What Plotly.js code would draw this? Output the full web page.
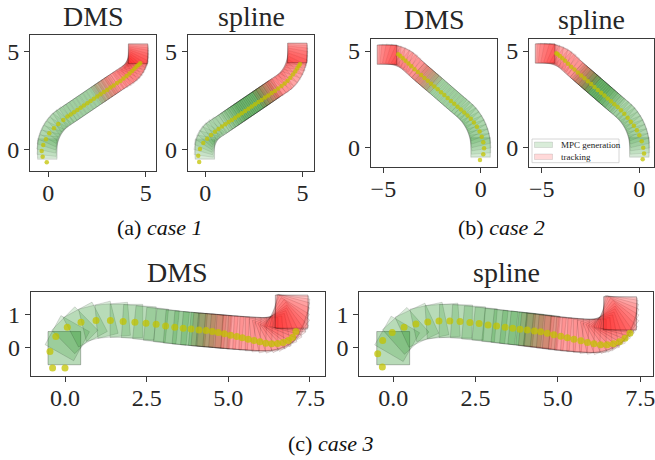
<!DOCTYPE html>
<html><head><meta charset="utf-8">
<script src="https://cdn.plot.ly/plotly-3.0.1.min.js"></script>
<style>html,body{margin:0;padding:0;background:#fff}#chart{width:655px;height:460px}</style>
</head><body><div id="chart"></div>
<script>
// ---------- DATA (poses are [x, y, heading deg]; dots are [x, y]) ----------
const c1DmsGreen = [[-0.05,0,90],[-0.05,0.06,90],[-0.04,0.21,84],[-0.01,0.42,78],[0.05,0.62,72],[0.12,0.81,66],[0.22,1.0,60],[0.33,1.18,54],[0.46,1.34,48],[0.61,1.49,42],[0.77,1.62,36],[0.92,1.72,34],[1.09,1.84,34],[1.26,1.95,34],[1.43,2.07,34],[1.61,2.19,34],[1.78,2.3,34],[1.95,2.42,34],[2.12,2.53,34],[2.3,2.65,34],[2.47,2.77,34],[2.64,2.88,34],[2.81,3.0,34],[2.98,3.11,34]];
const c1DmsRed = [[2.88,3.04,34],[3.05,3.15,34],[3.22,3.27,34],[3.39,3.38,34],[3.56,3.5,34],[3.73,3.61,34],[3.88,3.71,34],[3.99,3.78,36],[4.11,3.86,40],[4.22,3.96,46],[4.31,4.07,52],[4.4,4.18,58],[4.47,4.3,64],[4.53,4.43,70],[4.56,4.54,75],[4.59,4.66,80],[4.6,4.75,84],[4.61,4.83,87],[4.61,4.87,89],[4.61,4.9,90],[4.61,4.9,90],[4.61,4.9,90]];
const c1DmsDots = [[-0.08,-0.64],[-0.29,-0.36],[-0.34,-0.07],[-0.26,0.24],[-0.12,0.53],[0.05,0.84],[0.29,1.09],[0.51,1.31],[0.77,1.52],[0.98,1.69],[1.15,1.8],[1.32,1.91],[1.49,2.03],[1.66,2.14],[1.83,2.26],[2.0,2.37],[2.17,2.48],[2.34,2.6],[2.51,2.71],[2.68,2.83],[2.85,2.94],[3.02,3.05],[3.19,3.17],[3.36,3.28],[3.53,3.4],[3.7,3.51],[3.86,3.63],[4.02,3.76],[4.17,3.89],[4.3,4.01],[4.42,4.13],[4.53,4.24],[4.63,4.33],[4.72,4.41]];

const c1SplGreen = [[-0.02,0,90],[-0.02,0.05,90],[-0.01,0.18,82],[0.03,0.36,74],[0.09,0.53,66],[0.18,0.69,58],[0.28,0.84,50],[0.41,0.97,42],[0.55,1.08,34],[0.72,1.19,34],[0.88,1.3,34],[1.05,1.41,34],[1.22,1.53,34],[1.38,1.64,34],[1.46,1.7,34],[1.55,1.75,34],[1.63,1.81,34],[1.71,1.86,34],[1.8,1.92,34],[1.88,1.98,34],[1.96,2.03,34],[2.05,2.09,34],[2.13,2.15,34],[2.21,2.2,34],[2.29,2.26,34],[2.38,2.31,34],[2.46,2.37,34],[2.54,2.42,34],[2.63,2.48,34],[2.71,2.54,34],[2.79,2.59,34],[2.88,2.65,34],[2.96,2.71,34],[3.04,2.76,34],[3.12,2.82,34],[3.21,2.87,34],[3.29,2.93,34]];
const c1SplRed = [[3.12,2.82,34],[3.29,2.93,34],[3.45,3.04,34],[3.62,3.16,34],[3.78,3.27,34],[3.87,3.33,34],[4.04,3.45,40],[4.19,3.59,46],[4.32,3.75,52],[4.44,3.91,58],[4.53,4.09,64],[4.61,4.28,70],[4.66,4.44,75],[4.7,4.6,80],[4.72,4.74,84],[4.73,4.84,87],[4.73,4.91,89],[4.73,4.94,90],[4.73,4.94,90],[4.73,4.94,90]];
const c1SplDots = [[-0.31,-0.63],[-0.36,-0.31],[-0.27,0.04],[-0.1,0.34],[0.1,0.56],[0.3,0.75],[0.5,0.92],[0.68,1.06],[0.86,1.18],[1.03,1.3],[1.2,1.41],[1.37,1.52],[1.54,1.63],[1.71,1.75],[1.88,1.86],[2.05,1.97],[2.22,2.09],[2.39,2.2],[2.56,2.32],[2.73,2.43],[2.9,2.54],[3.07,2.66],[3.24,2.77],[3.41,2.89],[3.58,3.0],[3.75,3.12],[3.92,3.25],[4.08,3.38],[4.23,3.52],[4.37,3.67],[4.5,3.83],[4.62,3.99],[4.72,4.14],[4.8,4.27],[4.87,4.37]];

const c2DmsGreen = [[-0.01,-0.01,90],[-0.01,0.04,90],[-0.02,0.2,94.5],[-0.04,0.41,99],[-0.08,0.61,103.5],[-0.14,0.82,108],[-0.21,1.01,112.5],[-0.3,1.2,117],[-0.4,1.39,121.5],[-0.52,1.56,126],[-0.65,1.72,130.5],[-0.79,1.88,135],[-0.93,2.01,139],[-1.09,2.15,139],[-1.25,2.29,139],[-1.41,2.43,139],[-1.56,2.56,139],[-1.72,2.7,139],[-1.88,2.84,139],[-2.04,2.98,139],[-2.2,3.12,139],[-2.36,3.26,139],[-2.52,3.4,139],[-2.68,3.53,139],[-2.84,3.67,139]];
const c2DmsRed = [[-2.68,3.53,139],[-2.84,3.67,139],[-3.0,3.81,139],[-3.16,3.95,139],[-3.32,4.09,139],[-3.47,4.22,139],[-3.59,4.35,139],[-3.75,4.47,145],[-3.91,4.58,151],[-4.09,4.66,157],[-4.27,4.73,163],[-4.46,4.78,169],[-4.63,4.8,174],[-4.72,4.81,177],[-4.79,4.81,179],[-4.82,4.81,180],[-4.82,4.81,180],[-4.82,4.81,180]];
const c2DmsDots = [[-0.04,-0.64],[0.13,-0.34],[0.17,-0.03],[0.13,0.28],[0.05,0.57],[-0.06,0.84],[-0.2,1.08],[-0.35,1.3],[-0.51,1.5],[-0.68,1.67],[-0.85,1.82],[-1.02,1.97],[-1.19,2.12],[-1.36,2.27],[-1.53,2.42],[-1.7,2.57],[-1.87,2.72],[-2.04,2.87],[-2.21,3.02],[-2.38,3.16],[-2.55,3.31],[-2.72,3.46],[-2.89,3.61],[-3.06,3.76],[-3.23,3.91],[-3.4,4.06],[-3.56,4.21],[-3.71,4.36],[-3.86,4.5],[-4.0,4.63],[-4.13,4.74],[-4.24,4.83]];

const c2SplGreen = [[0,0,90],[0,0.05,90],[-0.01,0.2,94.5],[-0.03,0.41,99],[-0.07,0.61,103.5],[-0.13,0.82,108],[-0.2,1.01,112.5],[-0.29,1.2,117],[-0.39,1.39,121.5],[-0.51,1.56,126],[-0.64,1.72,130.5],[-0.78,1.88,135],[-0.92,2.01,139],[-1.08,2.15,139],[-1.24,2.29,139],[-1.4,2.43,139],[-1.48,2.5,139],[-1.56,2.57,139],[-1.64,2.64,139],[-1.72,2.71,139],[-1.8,2.78,139],[-1.88,2.85,139],[-1.96,2.92,139],[-2.04,2.99,139],[-2.12,3.06,139],[-2.2,3.13,139],[-2.28,3.2,139],[-2.36,3.27,139],[-2.44,3.34,139],[-2.52,3.41,139],[-2.6,3.48,139],[-2.68,3.55,139],[-2.76,3.62,139],[-2.84,3.69,139]];
const c2SplRed = [[-2.68,3.55,139],[-2.84,3.69,139],[-3.0,3.83,139],[-3.16,3.97,139],[-3.32,4.11,139],[-3.47,4.24,139],[-3.59,4.37,139],[-3.75,4.5,145],[-3.91,4.61,151],[-4.09,4.7,157],[-4.27,4.77,163],[-4.46,4.82,169],[-4.63,4.85,174],[-4.73,4.86,177],[-4.8,4.87,179],[-4.83,4.87,180],[-4.83,4.87,180],[-4.83,4.87,180]];
const c2SplDots = [[0.17,-0.6],[0.24,-0.3],[0.2,0.0],[0.12,0.34],[0.0,0.64],[-0.13,0.9],[-0.28,1.13],[-0.44,1.34],[-0.6,1.55],[-0.77,1.76],[-0.94,1.94],[-1.11,2.1],[-1.28,2.25],[-1.45,2.4],[-1.62,2.55],[-1.79,2.7],[-1.96,2.84],[-2.13,2.99],[-2.3,3.14],[-2.47,3.29],[-2.64,3.44],[-2.81,3.59],[-2.98,3.74],[-3.15,3.89],[-3.32,4.04],[-3.49,4.19],[-3.65,4.34],[-3.8,4.49],[-3.94,4.62],[-4.07,4.74],[-4.18,4.83],[-4.25,4.88]];

const c3DmsGreen = [[-0.02,-0.02,90],[-0.02,-0.02,90],[0.07,0.28,61],[0.3,0.52,45],[0.62,0.69,28],[1.02,0.79,14],[1.46,0.82,5],[1.88,0.8,0],[2.26,0.76,-4],[2.62,0.71,-6],[2.95,0.66,-6],[3.26,0.62,-6],[3.55,0.59,-5],[3.82,0.56,-5],[4.08,0.54,-5],[4.32,0.52,-5],[4.55,0.5,-5]];
const c3DmsRed = [[4.4,0.51,-5],[4.58,0.5,-5],[4.76,0.49,-5],[4.94,0.47,-5],[5.12,0.46,-4],[5.3,0.44,-4],[5.48,0.43,-3],[5.66,0.42,-3],[5.84,0.41,-2],[6.02,0.4,0],[6.18,0.41,5],[6.33,0.43,12],[6.46,0.47,20],[6.58,0.52,28],[6.68,0.58,36],[6.75,0.66,44],[6.79,0.74,52],[6.8,0.82,60],[6.84,0.92,68],[6.88,0.99,75],[6.93,1.03,82],[6.94,1.06,87],[6.94,1.08,90],[6.94,1.08,90]];
const c3DmsDots = [[-0.38,-0.62],[0,-0.62],[-0.46,-0.12],[-0.28,0.33],[0.07,0.61],[0.49,0.76],[0.95,0.81],[1.39,0.81],[1.78,0.78],[2.14,0.76],[2.48,0.73],[2.79,0.7],[3.08,0.65],[3.36,0.61],[3.62,0.58],[3.86,0.56],[4.1,0.53],[4.32,0.51],[4.51,0.48],[4.69,0.45],[4.88,0.41],[5.07,0.37],[5.26,0.33],[5.43,0.29],[5.61,0.25],[5.79,0.21],[5.97,0.17],[6.15,0.13],[6.33,0.11],[6.51,0.12],[6.68,0.15],[6.84,0.21],[6.97,0.31],[7.07,0.48]];

const c3SplGreen = [[0,-0.02,90],[0,-0.02,90],[0.12,0.26,60],[0.38,0.5,42],[0.72,0.67,25],[1.1,0.77,12],[1.5,0.8,4],[1.9,0.79,-1],[2.27,0.76,-4],[2.62,0.71,-5],[2.94,0.67,-6],[3.24,0.63,-6],[3.52,0.6,-6],[3.78,0.57,-6],[4.03,0.55,-6],[4.27,0.52,-6],[4.5,0.5,-6]];
const c3SplRed = [[4.35,0.5,-6],[4.53,0.48,-6],[4.71,0.46,-6],[4.89,0.44,-5],[5.07,0.42,-5],[5.25,0.4,-4],[5.43,0.38,-4],[5.61,0.37,-3],[5.79,0.36,-2],[5.97,0.35,0],[6.13,0.36,5],[6.28,0.39,12],[6.41,0.43,20],[6.53,0.49,28],[6.63,0.55,36],[6.71,0.63,44],[6.76,0.72,52],[6.78,0.8,60],[6.81,0.88,68],[6.84,0.95,75],[6.87,1.0,82],[6.89,1.02,87],[6.89,1.03,90],[6.89,1.03,90]];
const c3SplDots = [[-0.33,-0.59],[-0.47,-0.19],[-0.32,0.21],[-0.03,0.45],[0.33,0.61],[0.69,0.71],[1.05,0.77],[1.39,0.8],[1.72,0.8],[2.03,0.78],[2.33,0.75],[2.61,0.72],[2.88,0.68],[3.14,0.65],[3.4,0.61],[3.63,0.58],[3.85,0.55],[4.07,0.53],[4.29,0.5],[4.48,0.47],[4.68,0.43],[4.88,0.38],[5.09,0.34],[5.29,0.29],[5.49,0.25],[5.7,0.2],[5.9,0.15],[6.1,0.11],[6.3,0.08],[6.5,0.08],[6.69,0.11],[6.87,0.17],[7.04,0.28],[7.19,0.43]];

const tick15 = [0, 5];
const tick15Text = ['0', '5'];
const tick2x = [-5, 0];
const tick2xText = ['\u22125', '0'];
const tick3x = [0, 2.5, 5, 7.5];
const tick3xText = ['0.0', '2.5', '5.0', '7.5'];
const tick3y = [0, 1];
const tick3yText = ['0', '1'];
const subTitles = ['DMS', 'spline', 'DMS', 'spline', 'DMS', 'spline'];
const captions = ['(a) <i>case 1</i>', '(b) <i>case 2</i>', '(c) <i>case 3</i>'];
const legendLabels = ['MPC generation', 'tracking'];

// ---------- LAYOUT ----------
const W = 655, H = 460;
const ROBOT = 1.0;
const FONT = 'Liberation Serif, Times New Roman, serif';

const panels = [
  {g:c1DmsGreen, r:c1DmsRed, d:c1DmsDots, px:[30,156], py:[35,170.7], xr:[-0.94,5.53], yr:[-1.07,5.85], xt:tick15, xtt:tick15Text, yt:tick15, ytt:tick15Text, ga:0.085, ra:0.1, ea:0.12, ms:4.5, tb:26.7},
  {g:c1SplGreen, r:c1SplRed, d:c1SplDots, px:[187.7,314.3], py:[35,170.7], xr:[-0.9,5.6], yr:[-1.07,5.85], xt:tick15, xtt:tick15Text, yt:tick15, ytt:tick15Text, ga:0.08, ra:0.1, ea:0.12, ms:4.5, tb:26.7},
  {g:c2DmsGreen, r:c2DmsRed, d:c2DmsDots, px:[370.7,497.3], py:[39,166.7], xr:[-5.65,0.85], yr:[-0.98,5.62], xt:tick2x, xtt:tick2xText, yt:tick15, ytt:tick15Text, ga:0.09, ra:0.1, ea:0.12, ms:4.5, tb:30},
  {g:c2SplGreen, r:c2SplRed, d:c2SplDots, px:[529,654], py:[39,166.7], xr:[-5.65,0.75], yr:[-0.98,5.62], xt:tick2x, xtt:tick2xText, yt:tick15, ytt:tick15Text, ga:0.085, ra:0.1, ea:0.12, ms:4.5, tb:30},
  {g:c3DmsGreen, r:c3DmsRed, d:c3DmsDots, px:[30.7,325], py:[291.7,375.7], xr:[-1.05,7.96], yr:[-0.85,1.68], xt:tick3x, xtt:tick3xText, yt:tick3y, ytt:tick3yText, ga:0.15, ra:0.085, ea:0.2, ms:7, tb:282.7},
  {g:c3SplGreen, r:c3SplRed, d:c3SplDots, px:[359.3,653.3], py:[291.7,375.7], xr:[-1.03,7.9], yr:[-0.85,1.68], xt:tick3x, xtt:tick3xText, yt:tick3y, ytt:tick3yText, ga:0.15, ra:0.085, ea:0.2, ms:7, tb:282.7}
];

function square(p) {
  const t = p[2] * Math.PI / 180, h = ROBOT / 2;
  const ux = Math.cos(t) * h, uy = Math.sin(t) * h, nx = -uy, ny = ux;
  const x = p[0], y = p[1];
  return {
    xs: [x+ux+nx, x-ux+nx, x-ux-nx, x+ux-nx, x+ux+nx],
    ys: [y+uy+ny, y-uy+ny, y-uy-ny, y+uy-ny, y+uy+ny]
  };
}

const traces = [];
const layout = {
  width: W, height: H, margin: {l:0, r:0, t:0, b:0},
  paper_bgcolor: '#fff', plot_bgcolor: '#fff', showlegend: false,
  font: {family: FONT, color: '#262626'},
  annotations: [], shapes: []
};

panels.forEach((P, i) => {
  const k = i === 0 ? '' : String(i + 1);
  const xa = 'x' + k, ya = 'y' + k;
  const axBase = {
    showline: true, mirror: true, linecolor: '#3a3a3a', linewidth: 1,
    ticks: 'outside', ticklen: 5, tickwidth: 1, tickcolor: '#3a3a3a',
    showgrid: false, zeroline: false, fixedrange: true, ticklabeloverflow: 'allow',
    tickfont: {family: FONT, size: 24, color: '#262626'}
  };
  layout['xaxis' + k] = Object.assign({}, axBase, {
    domain: [P.px[0] / W, P.px[1] / W], range: P.xr, anchor: ya,
    tickmode: 'array', tickvals: P.xt, ticktext: P.xtt, ticklabelstandoff: -5
  });
  layout['yaxis' + k] = Object.assign({}, axBase, {
    domain: [1 - P.py[1] / H, 1 - P.py[0] / H], range: P.yr, anchor: xa,
    tickmode: 'array', tickvals: P.yt, ticktext: P.ytt
  });
  const addSq = (list, rgb, a) => list.forEach(p => {
    const s = square(p);
    traces.push({type:'scatter', mode:'lines', x:s.xs, y:s.ys, xaxis:xa, yaxis:ya,
      fill:'toself', fillcolor:'rgba(' + rgb + ',' + a + ')',
      line:{color:'rgba(0,0,0,' + P.ea + ')', width:0.7}, hoverinfo:'skip', showlegend:false});
  });
  addSq(P.g, '0,128,0', P.ga);
  addSq(P.r, '255,0,0', P.ra);
  traces.push({type:'scatter', mode:'markers', x:P.d.map(d => d[0]), y:P.d.map(d => d[1]),
    xaxis:xa, yaxis:ya, marker:{size:P.ms, color:'rgba(195,195,0,0.75)', line:{width:0}},
    hoverinfo:'skip', showlegend:false});
  layout.annotations.push({text: subTitles[i], xref:'paper', yref:'paper',
    x: (P.px[0] + P.px[1]) / 2 / W, y: 1 - P.tb / H, xanchor:'center', yanchor:'bottom',
    yshift: -7, showarrow:false, font:{family:FONT, size:28, color:'#262626'}});
});

// captions
[[160, 237], [501.5, 237], [330.5, 453]].forEach((c, i) => {
  layout.annotations.push({text: captions[i], xref:'paper', yref:'paper',
    x: c[0] / W, y: 1 - c[1] / H, xanchor:'center', yanchor:'bottom', yshift:-5,
    showarrow:false, font:{family:FONT, size:22, color:'#111'}});
});

// legend (inside case-2 spline panel)
const lg = {x0:532, x1:619, y0:139, y1:162.7};
const px2x = v => v / W, py2y = v => 1 - v / H;
layout.shapes.push({type:'rect', xref:'paper', yref:'paper', x0:px2x(lg.x0), x1:px2x(lg.x1), y0:py2y(lg.y1), y1:py2y(lg.y0),
  fillcolor:'rgba(255,255,255,0.8)', line:{color:'#cccccc', width:0.8}});
[['0,128,0', 142, 147.5], ['255,0,0', 154, 159.5]].forEach((s, j) => {
  layout.shapes.push({type:'rect', xref:'paper', yref:'paper', x0:px2x(534.5), x1:px2x(552.5), y0:py2y(s[2]), y1:py2y(s[1]),
    fillcolor:'rgba(' + s[0] + ',0.15)', line:{color:'rgba(0,0,0,0.15)', width:0.7}});
  layout.annotations.push({text: legendLabels[j], xref:'paper', yref:'paper', x:px2x(559), y:py2y((s[1] + s[2]) / 2),
    xanchor:'left', yanchor:'middle', showarrow:false, font:{family:FONT, size:9, color:'#222'}});
});

Plotly.newPlot('chart', traces, layout, {staticPlot:true, displayModeBar:false});
</script></body></html>
